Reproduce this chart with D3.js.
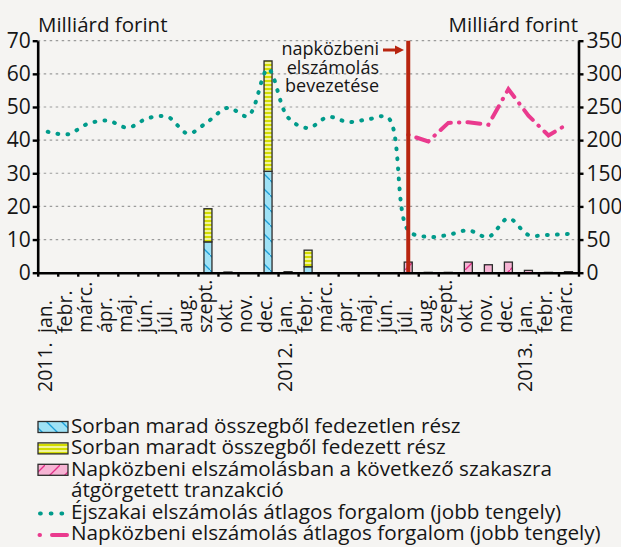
<!DOCTYPE html>
<meta charset="utf-8">
<script src="https://d3js.org/d3.v7.min.js"></script>
<style>
  body { margin: 0; background: #f5f4f2; }
  svg { display: block; }
  text { font-family: "Open Sans", sans-serif; fill: #161616; }
</style>

<div id="chart"></div>

<script>

// data
var months = ["jan.", "febr.", "márc.", "ápr.", "máj.", "jún.", "júl.", "aug.", "szept.", "okt.", "nov.", "dec.",
              "jan.", "febr.", "márc.", "ápr.", "máj.", "jún.", "júl.", "aug.", "szept.", "okt.", "nov.", "dec.",
              "jan.", "febr.", "márc."];
var years = ["2011.", "2012.", "2013."];
var yearStart = [0, 12, 24];

// left axis, bars (Milliárd forint)
var uncovered = [0, 0, 0, 0, 0, 0, 0, 0, 9.3, 0, 0, 30.6, 0, 1.8, 0, 0, 0, 0, 0, 0, 0, 0, 0, 0, 0, 0, 0];
var covered   = [0, 0, 0, 0, 0, 0, 0, 0, 10.0, 0.2, 0, 33.3, 0.3, 5.0, 0, 0, 0, 0, 0, 0, 0, 0, 0, 0, 0, 0, 0];
var rolled    = [0, 0, 0, 0, 0, 0, 0, 0, 0, 0, 0, 0, 0, 0, 0, 0, 0, 0, 3.2, 0.1, 0.1, 3.2, 2.4, 3.2, 0.7, 0.1, 0.3];

// right axis, lines (Milliárd forint)
var nightAvg = [212.7, 208.8, 224.6, 229.3, 218.8, 233.1, 234.9, 210, 228.1, 248.8, 236.4, 307.3,
                234, 218.3, 235, 227.3, 231.4, 233.6, 64, 54, 57, 64, 54, 82,
                57, 57, 58.5];
var dayAvg = [null, null, null, null, null, null, null, null, null, null, null, null,
              null, null, null, null, null, null, 208, 198, 226, 227, 223, 277,
              237, 207, 225];

var legendNames = ["Sorban marad összegből fedezetlen rész",
                   "Sorban maradt összegből fedezett rész",
                   "Napközbeni elszámolásban a következő szakaszra",
                   "átgörgetett tranzakció",
                   "Éjszakai elszámolás átlagos forgalom (jobb tengely)",
                   "Napközbeni elszámolás átlagos forgalom (jobb tengely)"];
var note = ["napközbeni", "elszámolás", "bevezetése"];
var noteIndex = 18;

var width = 621, height = 547,
  plotLeft = 37.7, plotRight = 578.5, plotTop = 40.7, plotBottom = 272.7,
  barWidth = 8,
  teal = "#009b8b", pink = "#ea3a8e", darkRed = "#b8250f";

var svg = d3.select("#chart")
  .append("svg")
    .attr("width", width)
    .attr("height", height);

svg.append("rect").attr("width", width).attr("height", height).attr("fill", "#f5f4f2");

// patterns for the bars
var defs = svg.append("defs");

var pBlue = defs.append("pattern").attr("id", "pBlue")
  .attr("patternUnits", "userSpaceOnUse").attr("width", 15).attr("height", 15);
pBlue.append("rect").attr("width", 15).attr("height", 15).attr("fill", "#9fe2f6");
pBlue.append("path").attr("d", "M-2,-2 L17,17").attr("stroke", "#1b9fd8").attr("stroke-width", 1.3);

var pYellow = defs.append("pattern").attr("id", "pYellow")
  .attr("patternUnits", "userSpaceOnUse").attr("width", 4).attr("height", 4);
pYellow.append("rect").attr("width", 4).attr("height", 4).attr("fill", "#f1f49c");
pYellow.append("rect").attr("width", 4).attr("height", 2).attr("fill", "#d3dc00");

var pPink = defs.append("pattern").attr("id", "pPink")
  .attr("patternUnits", "userSpaceOnUse").attr("width", 15).attr("height", 15);
pPink.append("rect").attr("width", 15).attr("height", 15).attr("fill", "#f6b4d4");
pPink.append("path").attr("d", "M-2,17 L17,-2").attr("stroke", "#e2308a").attr("stroke-width", 1.3);

var fills = ["url(#pBlue)", "url(#pYellow)", "url(#pPink)"];

// scales
var idx = d3.range(months.length);
var x = d3.scaleBand().domain(idx).range([plotLeft, plotRight]).padding(0);
var xEdge = d3.scaleLinear().domain([0, months.length]).range([plotLeft, plotRight]);
var yL = d3.scaleLinear().domain([0, 70]).range([plotBottom, plotTop]);
var yR = d3.scaleLinear().domain([0, 350]).range([plotBottom, plotTop]);
var mid = function(i) { return x(i) + x.bandwidth() / 2; };

// grid
svg.append("g")
  .selectAll("line")
  .data(d3.range(10, 71, 10))
  .enter()
  .append("line")
    .attr("x1", plotLeft).attr("x2", plotRight)
    .attr("y1", function(d) { return yL(d); })
    .attr("y2", function(d) { return yL(d); })
    .attr("stroke", "#9c9c9c")
    .attr("stroke-width", 1.2)
    .attr("stroke-dasharray", "2.5,3.5");

// stacked bars
var rows = idx.map(function(i) { return {i: i, a: uncovered[i], b: covered[i], c: rolled[i]}; });
var stack = d3.stack().keys(["a", "b", "c"])(rows);

svg.append("g")
  .selectAll("g")
  .data(stack)
  .enter()
  .append("g")
    .attr("fill", function(d, k) { return fills[k]; })
  .selectAll("rect")
  .data(function(d) { return d.filter(function(s) { return s[1] - s[0] > 0; }); })
  .enter()
  .append("rect")
    .attr("x", function(s) { return mid(s.data.i) - barWidth / 2; })
    .attr("width", barWidth)
    .attr("y", function(s) { return yL(s[1]); })
    .attr("height", function(s) { return yL(s[0]) - yL(s[1]); })
    .attr("stroke", "#2b2b2b")
    .attr("stroke-width", 1.3);

// lines
var nightLine = d3.line()
  .x(function(d, i) { return mid(i); })
  .y(function(d) { return yR(d); })
  .curve(d3.curveCatmullRom.alpha(0.5));

svg.append("path")
  .attr("d", nightLine(nightAvg))
  .attr("fill", "none")
  .attr("stroke", teal)
  .attr("stroke-width", 4)
  .attr("stroke-linecap", "round")
  .attr("stroke-dasharray", "0.8,9.2");

var dayLine = d3.line()
  .defined(function(d) { return d != null; })
  .x(function(d, i) { return mid(i); })
  .y(function(d) { return yR(d); });

svg.append("path")
  .attr("d", dayLine(dayAvg))
  .attr("fill", "none")
  .attr("stroke", pink)
  .attr("stroke-width", 4)
  .attr("stroke-linecap", "round")
  .attr("stroke-dasharray", "0.5,8,13,8");

// marker of the intraday settlement start
svg.append("line")
  .attr("x1", mid(noteIndex)).attr("x2", mid(noteIndex))
  .attr("y1", plotTop).attr("y2", plotBottom)
  .attr("stroke", darkRed)
  .attr("stroke-width", 4);

svg.append("g")
  .selectAll("text")
  .data(note)
  .enter()
  .append("text")
    .attr("x", 379)
    .attr("y", function(d, k) { return 55 + k * 18.5; })
    .attr("text-anchor", "end")
    .style("font-size", "18px")
    .text(function(d) { return d; });

svg.append("line")
  .attr("x1", 383).attr("x2", 397).attr("y1", 50).attr("y2", 50)
  .attr("stroke", darkRed).attr("stroke-width", 3);
svg.append("path")
  .attr("d", "M395,45.5 L404,50 L395,54.5 Z")
  .attr("fill", darkRed);

// axes
var axL = svg.append("g")
  .attr("transform", "translate(" + plotLeft + ",0)")
  .call(d3.axisLeft(yL).tickValues(d3.range(0, 71, 10)).tickSize(5).tickSizeOuter(0).tickPadding(2));

var axR = svg.append("g")
  .attr("transform", "translate(" + plotRight + ",0)")
  .call(d3.axisRight(yR).tickValues(d3.range(0, 351, 50)).tickSize(5).tickSizeOuter(0).tickPadding(3));

var axB = svg.append("g")
  .attr("transform", "translate(0," + plotBottom + ")")
  .call(d3.axisBottom(xEdge).tickValues(d3.range(months.length + 1)).tickSize(4).tickSizeOuter(0).tickFormat(""));

[axL, axR, axB].forEach(function(a) {
  a.select(".domain").attr("stroke", "#000").attr("stroke-width", 2.6);
  a.selectAll(".tick line").attr("stroke", "#000").attr("stroke-width", 2.4);
  a.selectAll("text").style("font-size", "21px").style("font-family", "'Open Sans', sans-serif").attr("fill", "#161616");
});

svg.append("text").attr("x", 38).attr("y", 32).style("font-size", "20.5px").text("Milliárd forint");
svg.append("text").attr("x", 578).attr("y", 32).attr("text-anchor", "end").style("font-size", "20.5px").text("Milliárd forint");

// month and year labels
svg.append("g")
  .selectAll("text")
  .data(months)
  .enter()
  .append("text")
    .attr("transform", function(d, i) { return "translate(" + (mid(i) + 4) + ",333) rotate(-90)"; })
    .style("font-size", "19.5px")
    .text(function(d) { return d; });

svg.append("g")
  .selectAll("text")
  .data(years)
  .enter()
  .append("text")
    .attr("transform", function(d, k) { return "translate(" + (mid(yearStart[k]) + 4) + ",392) rotate(-90)"; })
    .style("font-size", "19.5px")
    .text(function(d) { return d; });

// legend
var lx = 38, ly = [433, 454.4, 475.8, 497.2, 518.6, 540];

[0, 1, 2].forEach(function(k) {
  svg.append("rect")
    .attr("x", lx).attr("y", ly[k] - 11.5)
    .attr("width", 30).attr("height", 11)
    .attr("fill", fills[k])
    .attr("stroke", "#2b2b2b").attr("stroke-width", 1.3);
});

svg.append("path")
  .attr("d", "M" + (lx + 2) + "," + (ly[4] - 5) + "H" + (lx + 30))
  .attr("stroke", teal).attr("stroke-width", 4).attr("stroke-linecap", "round")
  .attr("stroke-dasharray", "0.8,9.9");
svg.append("path")
  .attr("d", "M" + (lx + 1.5) + "," + (ly[5] - 5) + "H" + (lx + 29))
  .attr("stroke", pink).attr("stroke-width", 4).attr("stroke-linecap", "round")
  .attr("stroke-dasharray", "0.5,12,18,8");

svg.append("g")
  .selectAll("text")
  .data(legendNames)
  .enter()
  .append("text")
    .attr("x", 71)
    .attr("y", function(d, k) { return ly[k]; })
    .style("font-size", "20.7px")
    .text(function(d) { return d; });

</script>
